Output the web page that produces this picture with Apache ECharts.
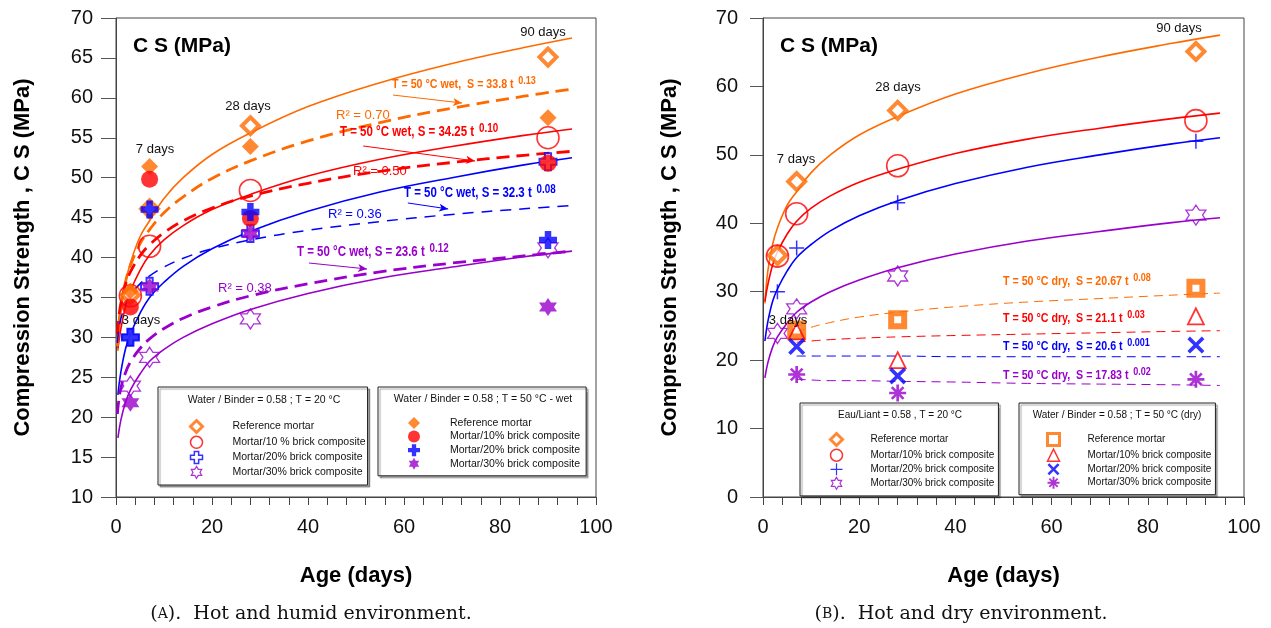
<!DOCTYPE html>
<html>
<head>
<meta charset="utf-8">
<script src="https://cdn.jsdelivr.net/npm/echarts@6/dist/echarts.min.js"></script>
<style>
html, body { margin: 0; padding: 0; background: #fff; }
#chart { width: 1271px; height: 628px; }
</style>
</head>
<body>
<div id="chart"></div>
<script>
// measurement ages (days)
const ages = [3, 7, 28, 90]
const agesDry = [7, 28, 90]

// T = 20 °C, same measurements on both panels (MPa)
const ref20 = [35.3, 46.1, 56.5, 65.1]
const brick10_20 = [35.2, 41.4, 48.4, 55.0]
const brick20_20 = [30.0, 36.4, 43.0, 52.0]
const brick30_20 = [23.9, 27.5, 32.3, 41.2]

// T = 50 °C wet (panel A)
const refWet = [35.8, 51.4, 53.9, 57.5]
const brick10Wet = [33.8, 49.8, 44.9, 51.8]
const brick20Wet = [30.0, 46.0, 45.7, 42.2]
const brick30Wet = [21.8, 36.3, 43.0, 33.8]

// T = 50 °C dry (panel B)
const refDry = [24.4, 25.9, 30.5]
const brick10Dry = [24.2, 20.0, 26.4]
const brick20Dry = [22.0, 17.7, 22.2]
const brick30Dry = [17.9, 15.2, 17.2]

// trend curves
const curveAges20 = [0.4, 1, 2, 3, 5, 7, 10, 14, 20, 28, 40, 55, 70, 85, 95]
const curveRef20 = [28.3, 33.0, 36.9, 39.3, 42.6, 44.6, 47.4, 50.0, 52.9, 55.6, 58.9, 61.9, 64.3, 66.3, 67.5]
const curveB10_20 = [28.6, 31.0, 33.9, 35.8, 38.4, 40.3, 42.2, 44.0, 46.0, 47.9, 50.2, 52.3, 53.9, 55.3, 56.1]
const curveB20_20 = [22.8, 25.6, 28.6, 30.4, 33.0, 35.0, 36.9, 38.9, 41.1, 43.3, 45.8, 48.2, 50.0, 51.6, 52.5]
const curveB30_20 = [17.4, 19.6, 21.9, 23.4, 25.4, 27.0, 28.5, 30.0, 31.7, 33.5, 35.5, 37.4, 38.8, 40.1, 40.8]

const curveAgesWet = [0.3, 0.5, 1, 2, 3, 5, 7, 10, 14, 20, 28, 40, 55, 70, 85, 95]
const curveRefWet = [28.9, 30.9, 33.8, 37.0, 39.0, 41.7, 43.5, 45.6, 47.6, 49.9, 52.1, 54.6, 56.9, 58.7, 60.2, 61.1]
const curveB10Wet = [30.4, 32.0, 34.2, 36.7, 38.2, 40.2, 41.6, 43.1, 44.6, 46.2, 47.7, 49.3, 50.8, 51.9, 52.8, 53.3]
const curveB20Wet = [29.3, 30.6, 32.3, 34.1, 35.3, 36.7, 37.7, 38.8, 39.9, 41.1, 42.2, 43.4, 44.5, 45.4, 46.1, 46.5]
const curveB30Wet = [20.4, 21.7, 23.6, 25.6, 26.9, 28.6, 29.8, 31.1, 32.4, 33.8, 35.2, 36.7, 38.2, 39.3, 40.2, 40.8]

const curveAgesDry = [7, 10, 14, 20, 28, 40, 55, 70, 85, 95]
const curveRefDry = [24.1, 24.8, 25.5, 26.3, 27.0, 27.8, 28.5, 29.0, 29.5, 29.8]
const curveB10Dry = [22.6, 22.8, 23.0, 23.2, 23.4, 23.6, 23.8, 24.0, 24.2, 24.3]
const curveB20Dry = [20.6, 20.6, 20.6, 20.6, 20.6, 20.5, 20.5, 20.5, 20.5, 20.5]
const curveB30Dry = [17.2, 17.1, 17.0, 17.0, 16.9, 16.8, 16.6, 16.5, 16.4, 16.3]

const ORANGE = '#ff6a00'
const RED = '#ff0000'
const BLUE = '#0000ff'
const PURPLE = '#9900cc'
const FONT = '"Liberation Sans", Arial, sans-serif'

// marker shapes
const STAR6 = 'path://M0,-100L28.87,-50L86.6,-50L57.7,0L86.6,50L28.87,50L0,100L-28.87,50L-86.6,50L-57.7,0L-86.6,-50L-28.87,-50Z'
const PLUS_FAT = 'path://M-18,-50L18,-50L18,-18L50,-18L50,18L18,18L18,50L-18,50L-18,18L-50,18L-50,-18L-18,-18Z'
const PLUS_THIN = 'path://M-5,-50L5,-50L5,-5L50,-5L50,5L5,5L5,50L-5,50L-5,5L-50,5L-50,-5L-5,-5Z'
const CROSS = 'path://M-50,-35L-35,-50L0,-15L35,-50L50,-35L15,0L50,35L35,50L0,15L-35,50L-50,35L-15,0Z'
const ASTER = 'path://M-8,-50L8,-50L8,50L-8,50Z M-50,-8L50,-8L50,8L-50,8Z M-40,-29L-29,-40L40,29L29,40Z M29,-40L40,-29L-29,40L-40,29Z'

const labels = {
  a20ref: 'Reference mortar', a20b10: 'Mortar/10 % brick composite',
  a20b20: 'Mortar/20% brick composite', a20b30: 'Mortar/30% brick composite',
  awref: 'Reference mortar', awb10: 'Mortar/10% brick composite',
  awb20: 'Mortar/20% brick composite', awb30: 'Mortar/30% brick composite',
  b20ref: 'Reference mortar', b20b10: 'Mortar/10% brick composite',
  b20b20: 'Mortar/20% brick composite', b20b30: 'Mortar/30% brick composite',
  bdref: 'Reference mortar', bdb10: 'Mortar/10% brick composite',
  bdb20: 'Mortar/20% brick composite', bdb30: 'Mortar/30% brick composite'
}

const pairs = (xs, ys) => xs.map((x, i) => [x, ys[i]])

const curve = (name, ax, xs, ys, color, width, dash) => ({
  type: 'line', name, xAxisIndex: ax, yAxisIndex: ax,
  data: pairs(xs, ys), smooth: 0.4, symbol: 'none', silent: true, z: 2,
  lineStyle: { color, width, type: dash || 'solid' }
})

const marks = (name, ax, xs, ys, symbol, size, itemStyle) => ({
  type: 'scatter', name, xAxisIndex: ax, yAxisIndex: ax,
  data: pairs(xs, ys), symbol, symbolSize: size, itemStyle, z: 3
})

const arrow = (color, from, to) => ({
  silent: true, symbol: ['none', 'arrow'], symbolSize: [6, 9], animation: false,
  label: { show: false }, lineStyle: { color, width: 1, type: 'solid' },
  data: [[{ coord: from }, { coord: to }]]
})

const hollowDiamond = { color: '#fff', borderColor: ORANGE, borderWidth: 4 }
const hollowCircle = { color: 'rgba(255,255,255,0)', borderColor: RED, borderWidth: 1.6 }
const hollowStar = { color: 'rgba(255,255,255,0)', borderColor: PURPLE, borderWidth: 1.3 }

const series = [
  // panel A curves
  curve('fa1', 0, curveAges20, curveRef20, ORANGE, 1.6),
  curve('fa2', 0, curveAges20, curveB10_20, RED, 1.6),
  curve('fa3', 0, curveAges20, curveB20_20, BLUE, 1.6),
  curve('fa4', 0, curveAges20, curveB30_20, PURPLE, 1.6),
  Object.assign(curve('fw1', 0, curveAgesWet, curveRefWet, ORANGE, 2.8, [13, 7]),
    { markLine: arrow(ORANGE, [57.7, 60.35], [72.1, 59.35]) }),
  Object.assign(curve('fw2', 0, curveAgesWet, curveB10Wet, RED, 2.8, [13, 7]),
    { markLine: arrow(RED, [51.5, 53.97], [74.8, 52.09]) }),
  Object.assign(curve('fw3', 0, curveAgesWet, curveB20Wet, BLUE, 1.5, [11, 8]),
    { markLine: arrow(BLUE, [60.8, 46.83], [69.2, 46.08]) }),
  Object.assign(curve('fw4', 0, curveAgesWet, curveB30Wet, PURPLE, 2.8, [13, 7]),
    { markLine: arrow(PURPLE, [40.2, 39.31], [52.3, 38.56]) }),
  // panel A markers
  marks('a20ref', 0, ages, ref20, 'diamond', 17, hollowDiamond),
  marks('a20b10', 0, ages, brick10_20, 'circle', 22, hollowCircle),
  marks('a20b20', 0, ages, brick20_20, PLUS_FAT, 17, { color: '#fff', borderColor: BLUE, borderWidth: 2 }),
  marks('a20b30', 0, ages, brick30_20, STAR6, 20, hollowStar),
  marks('awref', 0, ages, refWet, 'diamond', 17, { color: ORANGE }),
  marks('awb10', 0, ages, brick10Wet, 'circle', 17, { color: RED }),
  marks('awb20', 0, ages, brick20Wet, PLUS_FAT, 18, { color: BLUE }),
  marks('awb30', 0, ages, brick30Wet, STAR6, 18, { color: PURPLE }),
  // panel B curves
  curve('fb1', 1, curveAges20, curveRef20, ORANGE, 1.6),
  curve('fb2', 1, curveAges20, curveB10_20, RED, 1.6),
  curve('fb3', 1, curveAges20, curveB20_20, BLUE, 1.6),
  curve('fb4', 1, curveAges20, curveB30_20, PURPLE, 1.6),
  curve('fd1', 1, curveAgesDry, curveRefDry, ORANGE, 1, [9, 6]),
  curve('fd2', 1, curveAgesDry, curveB10Dry, RED, 1, [9, 6]),
  curve('fd3', 1, curveAgesDry, curveB20Dry, BLUE, 1, [9, 6]),
  curve('fd4', 1, curveAgesDry, curveB30Dry, PURPLE, 1, [9, 6]),
  // panel B markers
  marks('b20ref', 1, ages, ref20, 'diamond', 17, hollowDiamond),
  marks('b20b10', 1, ages, brick10_20, 'circle', 22, hollowCircle),
  marks('b20b20', 1, ages, brick20_20, PLUS_THIN, 15, { color: BLUE }),
  marks('b20b30', 1, ages, brick30_20, STAR6, 20, hollowStar),
  marks('bdref', 1, agesDry, refDry, 'rect', 13, { color: '#fff', borderColor: ORANGE, borderWidth: 6 }),
  marks('bdb10', 1, agesDry, brick10Dry, 'triangle', 16, { color: 'rgba(255,255,255,0)', borderColor: RED, borderWidth: 1.8 }),
  marks('bdb20', 1, agesDry, brick20Dry, CROSS, 17, { color: BLUE }),
  marks('bdb30', 1, agesDry, brick30Dry, ASTER, 17, { color: PURPLE })
]

const legendBox = (left, top, items, pad, textPad, fontSize, gap) => ({
  orient: 'vertical', left, top, selectedMode: false, align: 'left',
  data: items.map(([name, style]) => ({ name, itemStyle: style })),
  formatter: (n) => labels[n],
  padding: pad, itemWidth: 12, itemHeight: 12, itemGap: gap,
  borderColor: '#222', borderWidth: 1, backgroundColor: '#fff',
  shadowColor: 'rgba(0,0,0,0.35)', shadowBlur: 1, shadowOffsetX: 2, shadowOffsetY: 2,
  textStyle: { fontFamily: FONT, fontSize, color: '#111', lineHeight: 12, padding: [0, 0, 0, textPad] }
})

const text = (x, y, str, font, color, align) => ({
  type: 'text', x, y, z: 60, silent: true,
  style: { text: str, font, fill: color, textAlign: align || 'left', align: align || 'left',
    textVerticalAlign: 'middle', verticalAlign: 'middle' }
})

// bold condensed equation label with a raised exponent
const equation = (x, y, main, exp, color, size) => ({
  type: 'text', x, y, z: 60, silent: true, scaleX: 0.82,
  style: {
    text: '{m|' + main + '}{s|' + exp + '}', font: 'bold ' + size + 'px ' + FONT, fill: color,
    textAlign: 'left', align: 'left', textVerticalAlign: 'bottom', verticalAlign: 'bottom',
    rich: {
      m: { font: 'bold ' + size + 'px ' + FONT, fill: color },
      s: { font: 'bold ' + (size - 2) + 'px ' + FONT, fill: color, padding: [0, 0, 7, 2] }
    }
  }
})

const caption = (x, y, letter, rest) => ({
  type: 'text', x, y, z: 60, silent: true,
  style: {
    text: '{n|(}{c|' + letter + '}{n|).  ' + rest + '}', fill: '#111',
    textAlign: 'center', align: 'center', textVerticalAlign: 'middle', verticalAlign: 'middle',
    rich: {
      n: { font: '19px "DejaVu Serif", "Liberation Serif", serif', fill: '#111' },
      c: { font: '14px "DejaVu Serif", "Liberation Serif", serif', fill: '#111' }
    }
  }
})

const axisCommon = {
  axisLine: { show: true, onZero: false, lineStyle: { color: '#444', width: 1 } },
  splitLine: { show: false },
  nameTextStyle: { fontFamily: FONT, fontWeight: 'bold', fontSize: 22, color: '#000' }
}

const xAxis = [0, 1].map((i) => Object.assign({}, axisCommon, {
  type: 'value', gridIndex: i, min: 0, max: 100, interval: 20,
  name: 'Age (days)', nameLocation: 'middle', nameGap: 68,
  axisTick: { show: true, length: 8, lineStyle: { color: '#444' } },
  minorTick: { show: true, splitNumber: 5, length: 8, lineStyle: { color: '#444' } },
  axisLabel: { fontFamily: FONT, fontSize: 20, color: '#111', margin: 20 }
}))

const yAxis = [
  Object.assign({}, axisCommon, {
    type: 'value', gridIndex: 0, min: 10, max: 70, interval: 5,
    name: 'Compression Strength , C S (MPa)', nameLocation: 'middle', nameGap: 82, nameRotate: 90,
    axisTick: { show: true, length: 15, lineStyle: { color: '#555' } },
    axisLabel: { fontFamily: FONT, fontSize: 20, color: '#111', margin: 23 }
  }),
  Object.assign({}, axisCommon, {
    type: 'value', gridIndex: 1, min: 0, max: 70, interval: 10,
    name: 'Compression Strength , C S (MPa)', nameLocation: 'middle', nameGap: 82, nameRotate: 90,
    axisTick: { show: true, length: 13, lineStyle: { color: '#555' } },
    axisLabel: { fontFamily: FONT, fontSize: 20, color: '#111', margin: 25 }
  })
]

const legend = [
  legendBox(158, 387, [
    ['a20ref', { borderWidth: 3 }], ['a20b10', { borderWidth: 1.5 }],
    ['a20b20', { borderWidth: 1.5 }], ['a20b30', { borderWidth: 1.2 }]
  ], [32, 2, 6, 31], 25, 10.5, 1.6),
  legendBox(378, 387, [
    ['awref', {}], ['awb10', {}], ['awb20', {}], ['awb30', {}]
  ], [30, 6, 6, 30], 25, 10.5, 1.6),
  legendBox(800, 403, [
    ['b20ref', { borderWidth: 3 }], ['b20b10', { borderWidth: 1.5 }],
    ['b20b20', {}], ['b20b30', { borderWidth: 1.2 }]
  ], [29, 4, 6, 29], 23, 10, 1.4),
  legendBox(1019, 403, [
    ['bdref', { borderWidth: 3 }], ['bdb10', { borderWidth: 1.5 }],
    ['bdb20', {}], ['bdb30', {}]
  ], [29, 4, 6, 27], 23, 10, 1.4)
]

const small = '13px ' + FONT
const graphic = [
  // panel A
  text(133, 46, 'C S (MPa)', 'bold 21px ' + FONT, '#000'),
  text(155, 149, '7 days', small, '#111', 'center'),
  text(248, 106, '28 days', small, '#111', 'center'),
  text(543, 32, '90 days', small, '#111', 'center'),
  text(141, 320, '3 days', small, '#111', 'center'),
  equation(392, 93, 'T = 50 °C wet,  S = 33.8 t ', '0.13', ORANGE, 13),
  equation(340, 142, 'T = 50 °C wet, S = 34.25 t ', '0.10', RED, 14),
  equation(404, 203, 'T = 50 °C wet, S = 32.3 t ', '0.08', BLUE, 14),
  equation(297, 262, 'T = 50 °C wet, S = 23.6 t ', '0.12', PURPLE, 14),
  text(336, 115, 'R² = 0.70', small, ORANGE),
  text(353, 171, 'R² = 0.50', small, RED),
  text(328, 214, 'R² = 0.36', small, BLUE),
  text(218, 288, 'R² = 0.38', small, PURPLE),
  text(264, 400, 'Water / Binder = 0.58 ; T = 20 °C', '10.5px ' + FONT, '#111', 'center'),
  text(483, 399, 'Water / Binder = 0.58 ; T = 50 °C - wet', '10.5px ' + FONT, '#111', 'center'),
  // panel B
  text(780, 46, 'C S (MPa)', 'bold 21px ' + FONT, '#000'),
  text(796, 159, '7 days', small, '#111', 'center'),
  text(898, 87, '28 days', small, '#111', 'center'),
  text(1179, 28, '90 days', small, '#111', 'center'),
  text(788, 320, '3 days', small, '#111', 'center'),
  equation(1003, 290, 'T = 50 °C dry,  S = 20.67 t ', '0.08', ORANGE, 13),
  equation(1003, 327, 'T = 50 °C dry,  S = 21.1 t ', '0.03', RED, 13),
  equation(1003, 355, 'T = 50 °C dry,  S = 20.6 t ', '0.001', BLUE, 13),
  equation(1003, 384, 'T = 50 °C dry,  S = 17.83 t ', '0.02', PURPLE, 13),
  text(900, 415, 'Eau/Liant = 0.58 , T = 20 °C', '10px ' + FONT, '#111', 'center'),
  text(1117, 415, 'Water / Binder = 0.58 ; T = 50 °C (dry)', '10px ' + FONT, '#111', 'center'),
  // captions
  caption(311, 614, 'A', 'Hot and humid environment.'),
  caption(961, 614, 'B', 'Hot and dry environment.')
]

const chart = echarts.init(document.getElementById('chart'))
chart.setOption({
  animation: false,
  backgroundColor: '#fff',
  grid: [
    { left: 116, top: 18, width: 480, height: 479, show: true, borderColor: '#444', borderWidth: 1 },
    { left: 763, top: 18, width: 481, height: 479, show: true, borderColor: '#444', borderWidth: 1 }
  ],
  xAxis,
  yAxis,
  legend,
  series,
  graphic
})
</script>
</body>
</html>
